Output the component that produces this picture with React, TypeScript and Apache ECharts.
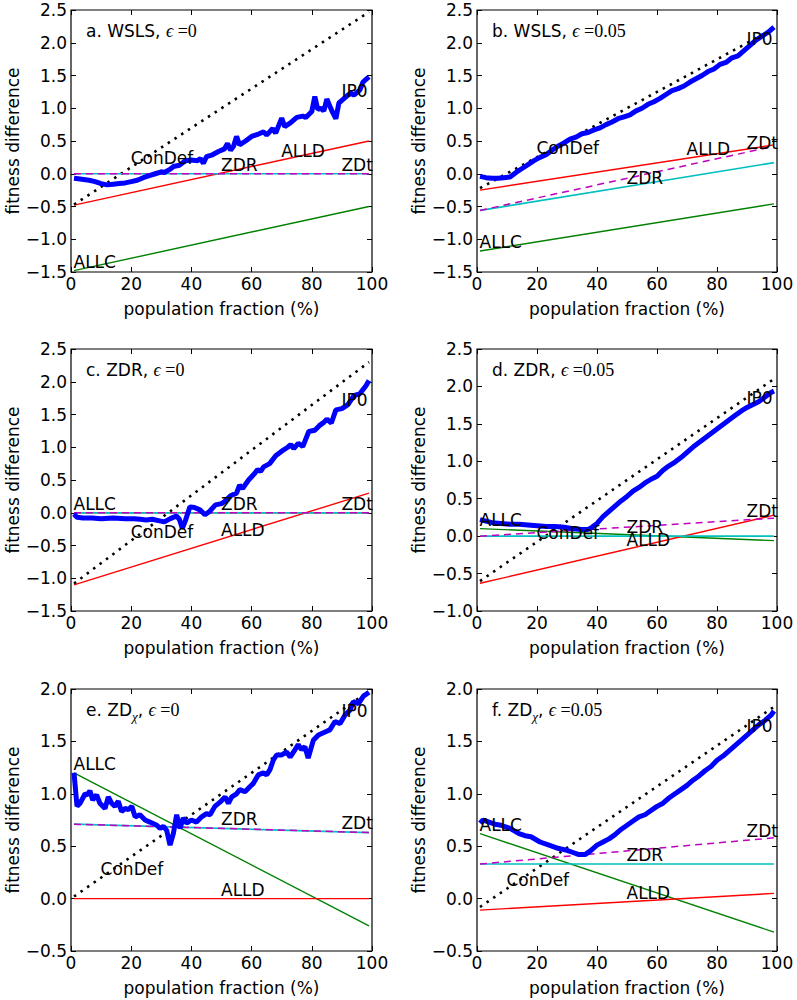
import React, { useEffect, useRef } from "react";
import * as echarts from "echarts";

type Pt = [number, number];

// ---------- tick ranges / texts ----------
const panelLetters = ["a", "b", "c", "d", "e", "f"];
const panelStrategies = ["WSLS", "WSLS", "ZDR", "ZDR", "ZD", "ZD"];
const panelSubscripts = ["", "", "", "", "χ", "χ"];
const panelEpsilons = ["0", "0.05", "0", "0.05", "0", "0.05"];
const yMins = [-1.5, -1.5, -1.5, -1.0, -0.5, -0.5];
const yMaxs = [2.5, 2.5, 2.5, 2.5, 2.0, 2.0];
const xMin = 0;
const xMax = 100;
const xInterval = 20;
const yInterval = 0.5;

// ---------- label placement (x in %) ----------
const labelNames = ["ALLC", "ConDef", "ZDR", "ALLD", "ZDt", "IP0"];
const labelXab = [1, 20, 50, 70, 90, 90];
const labelXcd = [1, 20, 50, 50, 90, 90];
const labelXef = [1, 10, 50, 50, 90, 90];

// ---------- panel a: WSLS, eps = 0 ----------
const aIP0: Pt[] = [[1,-0.07],[3,-0.08],[6,-0.1],[8,-0.12],[10,-0.15],[12,-0.17],[14,-0.16],[16,-0.15],[18,-0.14],[20,-0.12],[22,-0.1],[24,-0.06],[26,-0.03],[28,0.0],[30,0.03],[31,0.02],[33,0.07],[34,0.11],[36,0.13],[38,0.2],[40,0.21],[42,0.2],[43,0.23],[44,0.16],[45,0.26],[47,0.29],[49,0.34],[51,0.38],[52,0.46],[53,0.36],[54,0.42],[55,0.57],[56,0.44],[58,0.5],[60,0.57],[62,0.6],[64,0.64],[65,0.59],[67,0.69],[68,0.62],[70,0.85],[71,0.72],[73,0.78],[75,0.86],[77,0.88],[78,0.86],[80,0.95],[81,1.18],[82,0.98],[83,1.0],[84,0.96],[85,1.14],[86,1.03],[87,0.93],[88,0.84],[89,1.08],[90,1.12],[92,1.2],[93,1.23],[94,1.2],[96,1.28],[97,1.4],[98,1.44],[99,1.48]];
const aALLC: Pt[] = [[1,-1.48],[99,-0.5]];
const aALLD: Pt[] = [[1,-0.48],[99,0.5]];
const aZDR: Pt[] = [[1,0],[99,0]];
const aZDt: Pt[] = [[1,0],[99,0]];
const aConDef: Pt[] = [[1,-0.47],[99,2.47]];

// ---------- panel b: WSLS, eps = 0.05 ----------
const bIP0: Pt[] = [[1,-0.04],[3,-0.06],[5,-0.07],[7,-0.07],[9,-0.06],[11,-0.05],[13,0.02],[15,0.08],[17,0.14],[19,0.2],[21,0.25],[23,0.29],[25,0.36],[27,0.42],[29,0.47],[31,0.53],[33,0.56],[35,0.61],[37,0.63],[39,0.67],[41,0.7],[43,0.75],[45,0.79],[47,0.84],[49,0.87],[51,0.9],[53,0.96],[55,1.0],[57,1.06],[59,1.1],[61,1.15],[63,1.21],[65,1.27],[67,1.3],[69,1.34],[71,1.4],[73,1.45],[75,1.5],[77,1.56],[79,1.6],[81,1.67],[83,1.7],[85,1.77],[87,1.8],[89,1.88],[91,1.96],[93,2.04],[95,2.1],[97,2.16],[99,2.24]];
const bALLC: Pt[] = [[1,-1.18],[99,-0.46]];
const bALLD: Pt[] = [[1,-0.25],[99,0.44]];
const bZDR: Pt[] = [[1,-0.56],[99,0.17]];
const bZDt: Pt[] = [[1,-0.56],[99,0.42]];
const bConDef: Pt[] = [[1,-0.22],[99,2.22]];

// ---------- panel c: ZDR, eps = 0 ----------
const cIP0: Pt[] = [[1,-0.02],[2,-0.07],[4,-0.08],[7,-0.08],[10,-0.09],[14,-0.08],[18,-0.09],[21,-0.09],[23,-0.1],[25,-0.11],[27,-0.1],[29,-0.12],[31,-0.14],[33,-0.09],[35,-0.05],[36,-0.1],[37,-0.24],[38,-0.12],[39.5,0.09],[41,0.08],[43,0.04],[44.5,-0.03],[46,0.02],[48,0.12],[50,0.14],[51,0.17],[53,0.26],[55,0.3],[56,0.42],[57,0.37],[59,0.5],[61,0.6],[62,0.66],[63,0.63],[64,0.7],[66,0.75],[68,0.87],[70,0.94],[72,1.0],[73,1.04],[74,0.98],[75.5,1.06],[77,1.01],[79,1.24],[81,1.26],[82.5,1.33],[84,1.38],[85,1.43],[86.5,1.37],[88,1.57],[90,1.59],[92,1.65],[94,1.79],[96,1.82],[98,1.94],[99,2.02]];
const cALLC: Pt[] = [[1,0],[99,0]];
const cALLD: Pt[] = [[1,-1.1],[99,0.3]];
const cZDR: Pt[] = [[1,0],[99,0]];
const cZDt: Pt[] = [[1,0],[99,0]];
const cConDef: Pt[] = [[1,-1.08],[99,2.3]];

// ---------- panel d: ZDR, eps = 0.05 ----------
const dIP0: Pt[] = [[1,0.22],[3,0.2],[5,0.18],[8,0.17],[11,0.16],[14,0.16],[17,0.15],[20,0.14],[23,0.13],[26,0.13],[29,0.12],[32,0.1],[35,0.09],[37,0.09],[38,0.11],[40,0.17],[42,0.26],[44,0.33],[46,0.4],[48,0.47],[50,0.53],[52,0.6],[54,0.65],[56,0.71],[58,0.76],[60,0.8],[62,0.88],[64,0.94],[66,0.99],[68,1.05],[70,1.12],[72,1.19],[74,1.25],[76,1.31],[78,1.37],[80,1.43],[82,1.49],[84,1.55],[86,1.61],[88,1.67],[90,1.72],[92,1.76],[94,1.8],[96,1.86],[98,1.92],[99,1.94]];
const dALLC: Pt[] = [[1,0.1],[99,-0.06]];
const dALLD: Pt[] = [[1,-0.63],[99,0.28]];
const dZDR: Pt[] = [[1,0],[99,0]];
const dZDt: Pt[] = [[1,0],[99,0.24]];
const dConDef: Pt[] = [[1,-0.6],[99,2.1]];

// ---------- panel e: ZD_chi, eps = 0 ----------
const eIP0: Pt[] = [[1,1.2],[2,0.88],[3,0.91],[4.7,1.0],[5.5,0.99],[6.3,1.03],[7.2,0.94],[8.5,0.99],[9.6,0.91],[11.3,0.86],[12.4,0.97],[13.5,0.91],[14.6,0.88],[15.7,0.93],[16.8,0.83],[18,0.86],[19,0.85],[20.2,0.88],[21.3,0.78],[22.9,0.8],[24.6,0.75],[26.2,0.73],[28.5,0.7],[29.6,0.67],[30.7,0.69],[31.8,0.65],[32.9,0.51],[34,0.62],[35.1,0.8],[36.2,0.67],[37.3,0.77],[38.4,0.72],[40,0.75],[41.7,0.73],[43.4,0.78],[45,0.81],[46.2,0.8],[47.8,0.88],[49.5,0.92],[51.2,0.97],[52.3,0.91],[53.4,0.97],[55,1.0],[56.1,1.04],[57.8,1.02],[59.5,1.07],[60.6,1.1],[62.2,1.18],[63.9,1.2],[65,1.18],[66.1,1.23],[67.2,1.32],[68.3,1.37],[70,1.37],[71.6,1.4],[72.8,1.35],[74.4,1.42],[75.5,1.47],[76.6,1.42],[77.7,1.45],[78.8,1.34],[80.5,1.51],[82.2,1.56],[84.4,1.59],[86,1.61],[87.7,1.69],[89.4,1.67],[91,1.75],[92.7,1.8],[93.8,1.88],[95.5,1.86],[97.1,1.93],[99,1.97]];
const eALLC: Pt[] = [[1,1.2],[99,-0.26]];
const eALLD: Pt[] = [[1,0],[99,0]];
const eZDR: Pt[] = [[1,0.71],[99,0.63]];
const eZDt: Pt[] = [[1,0.71],[99,0.63]];
const eConDef: Pt[] = [[1,0.02],[99,1.98]];

// ---------- panel f: ZD_chi, eps = 0.05 ----------
const fIP0: Pt[] = [[1,0.72],[2,0.75],[4,0.73],[6,0.71],[8,0.7],[11,0.67],[14,0.62],[16,0.6],[18,0.59],[21,0.54],[24,0.51],[27,0.48],[30,0.46],[32,0.44],[34,0.42],[36,0.42],[38,0.46],[40,0.51],[42,0.54],[44,0.57],[46,0.61],[48,0.66],[50,0.7],[52,0.74],[54,0.78],[56,0.8],[58,0.84],[60,0.88],[62,0.91],[64,0.96],[66,1.0],[68,1.04],[70,1.08],[72,1.13],[74,1.17],[76,1.22],[78,1.26],[80,1.32],[82,1.36],[84,1.41],[86,1.46],[88,1.51],[90,1.56],[92,1.61],[94,1.66],[96,1.7],[98,1.75],[99,1.79]];
const fALLC: Pt[] = [[1,0.62],[99,-0.32]];
const fALLD: Pt[] = [[1,-0.11],[99,0.05]];
const fZDR: Pt[] = [[1,0.33],[99,0.33]];
const fZDt: Pt[] = [[1,0.33],[99,0.58]];
const fConDef: Pt[] = [[1,-0.08],[99,1.83]];

const panelSeries: Record<string, Pt[]>[] = [
  { ALLC: aALLC, ALLD: aALLD, ConDef: aConDef, ZDR: aZDR, ZDt: aZDt, IP0: aIP0 },
  { ALLC: bALLC, ALLD: bALLD, ConDef: bConDef, ZDR: bZDR, ZDt: bZDt, IP0: bIP0 },
  { ALLC: cALLC, ALLD: cALLD, ConDef: cConDef, ZDR: cZDR, ZDt: cZDt, IP0: cIP0 },
  { ALLC: dALLC, ALLD: dALLD, ConDef: dConDef, ZDR: dZDR, ZDt: dZDt, IP0: dIP0 },
  { ALLC: eALLC, ALLD: eALLD, ConDef: eConDef, ZDR: eZDR, ZDt: eZDt, IP0: eIP0 },
  { ALLC: fALLC, ALLD: fALLD, ConDef: fConDef, ZDR: fZDR, ZDt: fZDt, IP0: fIP0 },
];
const panelLabelX = [labelXab, labelXab, labelXcd, labelXcd, labelXef, labelXef];

// ---------- layout & styles ----------
const gridLefts = [71, 477, 71, 477, 71, 477];
const gridTops = [10, 10, 349, 349, 689, 689];
const gridWidths = [301, 300, 301, 300, 301, 300];
const gridHeight = 262;

const FONT = "'DejaVu Sans', sans-serif";
const SERIF = "'Liberation Serif', 'DejaVu Serif', serif";

const drawOrder = ["ALLC", "ALLD", "ConDef", "ZDR", "ZDt", "IP0"];
const lineStyles: Record<string, any> = {
  ALLC: { color: "#008000", width: 1.4, type: "solid" },
  ALLD: { color: "#ff0000", width: 1.4, type: "solid" },
  ConDef: { color: "#000000", width: 2.6, type: [2.5, 5.5] },
  ZDR: { color: "#00bfbf", width: 1.7, type: "solid" },
  ZDt: { color: "#bf00bf", width: 1.5, type: [7, 5] },
  IP0: { color: "#0000ff", width: 5, type: "solid" },
};

function valueAt(pts: Pt[], x: number): number {
  for (let i = 0; i < pts.length - 1; i++) {
    const [x0, y0] = pts[i];
    const [x1, y1] = pts[i + 1];
    if (x >= x0 && x <= x1) return y0 + ((y1 - y0) * (x - x0)) / (x1 - x0);
  }
  return x < pts[0][0] ? pts[0][1] : pts[pts.length - 1][1];
}

function fmtY(v: number): string {
  const s = Math.abs(v).toFixed(1);
  return v < -1e-9 ? "\u2212" + s : s;
}

function buildOption() {
  const option: any = {
    animation: false,
    textStyle: { fontFamily: FONT, color: "#000" },
    title: [],
    grid: [],
    xAxis: [],
    yAxis: [],
    series: [],
  };
  for (let i = 0; i < 6; i++) {
    option.grid.push({
      left: gridLefts[i], top: gridTops[i], width: gridWidths[i], height: gridHeight,
      show: true, borderColor: "#000", borderWidth: 1.2, backgroundColor: "rgba(0,0,0,0)",
      containLabel: false,
    });
    const tick = { show: true, inside: true, length: 5, lineStyle: { color: "#000", width: 1 } };
    const xBase = {
      type: "value", gridIndex: i, min: xMin, max: xMax, interval: xInterval,
      splitLine: { show: false }, axisLine: { show: false, onZero: false }, axisTick: tick,
    };
    option.xAxis.push({
      ...xBase, position: "bottom",
      name: "population fraction (%)", nameLocation: "middle", nameGap: 28,
      nameTextStyle: { fontSize: 17, color: "#000", fontFamily: FONT },
      axisLabel: { fontSize: 17, color: "#000", margin: 3, fontFamily: FONT },
    });
    option.xAxis.push({ ...xBase, position: "top", axisLabel: { show: false } });
    const yBase = {
      type: "value", gridIndex: i, min: yMins[i], max: yMaxs[i], interval: yInterval,
      splitLine: { show: false }, axisLine: { show: false, onZero: false }, axisTick: tick,
    };
    option.yAxis.push({
      ...yBase, position: "left",
      name: "fitness difference", nameLocation: "middle", nameGap: 50,
      nameTextStyle: { fontSize: 17, color: "#000", fontFamily: FONT },
      axisLabel: { fontSize: 17, color: "#000", margin: 4, fontFamily: FONT, formatter: fmtY },
    });
    option.yAxis.push({ ...yBase, position: "right", axisLabel: { show: false } });

    const ser = panelSeries[i];
    drawOrder.forEach((name, k) => {
      option.series.push({
        type: "line", name, xAxisIndex: 2 * i, yAxisIndex: 2 * i,
        data: ser[name], showSymbol: false, symbol: "none", silent: true,
        lineStyle: lineStyles[name], z: 2 + k,
      });
    });
    const lx = panelLabelX[i];
    option.series.push({
      type: "scatter", xAxisIndex: 2 * i, yAxisIndex: 2 * i, silent: true, z: 20,
      symbolSize: 1, itemStyle: { color: "rgba(0,0,0,0)", opacity: 1 },
      data: labelNames.map((n, k) => ({ name: n, value: [lx[k], valueAt(ser[n], lx[k])] })),
      label: {
        show: true, formatter: "{b}", position: [0, 0], align: "left", verticalAlign: "bottom",
        offset: [0, 4], fontSize: 17, color: "#000", opacity: 1, fontFamily: FONT,
      },
      labelLayout: { hideOverlap: false },
    });

    const sub = panelSubscripts[i] ? `{s|${panelSubscripts[i]}}` : "";
    option.title.push({
      left: gridLefts[i] + 15, top: gridTops[i] + 12, padding: 0,
      text: `{t|${panelLetters[i]}. ${panelStrategies[i]}}${sub}{t|, }{e|ϵ}{m| =${panelEpsilons[i]}}`,
      textStyle: {
        fontWeight: "normal",
        rich: {
          t: { fontSize: 17, fontFamily: FONT, color: "#000", verticalAlign: "top", lineHeight: 20 },
          e: { fontSize: 18, fontFamily: SERIF, fontStyle: "italic", color: "#000", verticalAlign: "top", lineHeight: 20 },
          m: { fontSize: 18, fontFamily: SERIF, color: "#000", verticalAlign: "top", lineHeight: 20 },
          s: { fontSize: 13, fontFamily: SERIF, fontStyle: "italic", color: "#000", verticalAlign: "top", lineHeight: 13, padding: [9, 0, 0, 0] },
        },
      },
    });
  }
  return option;
}

export default function App() {
  const ref = useRef<HTMLDivElement>(null);
  useEffect(() => {
    if (!ref.current) return;
    const chart = echarts.init(ref.current, undefined, { renderer: "svg" });
    chart.setOption(buildOption());
    return () => chart.dispose();
  }, []);
  return (
    <div
      ref={ref}
      style={{ position: "absolute", left: 0, top: 0, width: 797, height: 1000, background: "#fff" }}
    />
  );
}
